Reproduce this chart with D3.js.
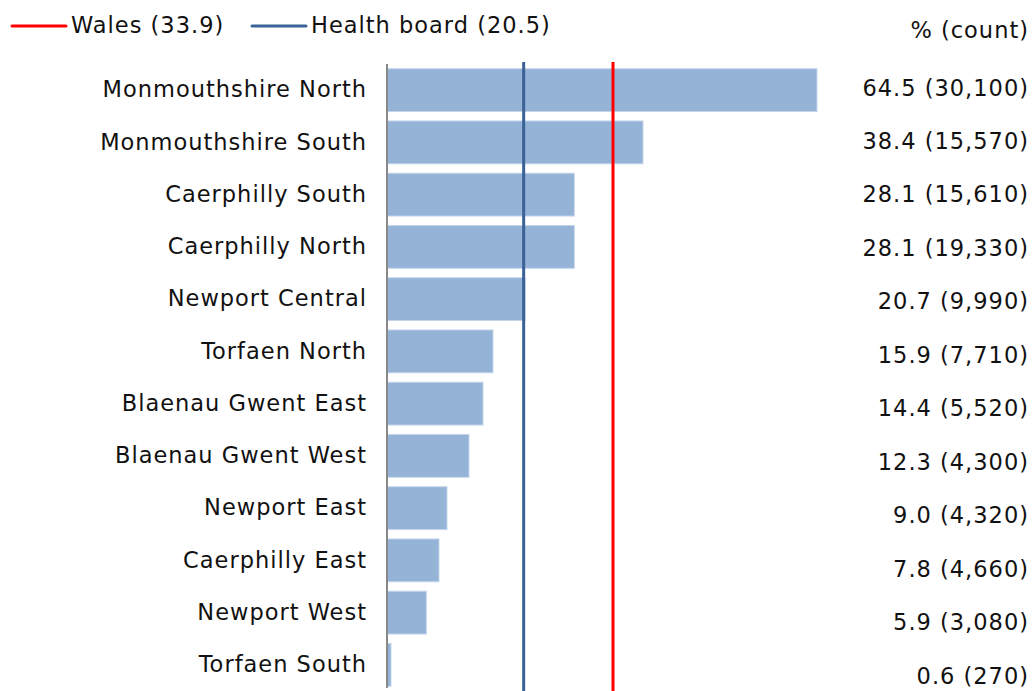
<!DOCTYPE html>
<html>
<head>
<meta charset="utf-8">
<script src="https://cdn.jsdelivr.net/npm/d3@7"></script>
<style>
  body { margin: 0; background: #fff; }
  text { font-family: "DejaVu Sans", Verdana, sans-serif; fill: #111; letter-spacing: 1px; }
</style>
</head>
<body>
<svg id="chart"></svg>
<script>
var areas = ["Monmouthshire North", "Monmouthshire South", "Caerphilly South", "Caerphilly North",
  "Newport Central", "Torfaen North", "Blaenau Gwent East", "Blaenau Gwent West",
  "Newport East", "Caerphilly East", "Newport West", "Torfaen South"];
var percents = [64.5, 38.4, 28.1, 28.1, 20.7, 15.9, 14.4, 12.3, 9.0, 7.8, 5.9, 0.6];
var counts = [30100, 15570, 15610, 19330, 9990, 7710, 5520, 4300, 4320, 4660, 3080, 270];
var refNames = ["Wales", "Health board"];
var refValues = [33.9, 20.5];

var width = 1032, height = 691;
var margin = {left: 387, right: 215, top: 64, bottom: 0};
var fontSize = 22.5;

var svg = d3.select("#chart").attr("width", width).attr("height", height);

var x = d3.scaleLinear()
  .domain([0, d3.max(percents)])
  .range([margin.left, width - margin.right]);

var y = d3.scaleBand()
  .domain(areas)
  .range([margin.top, height - margin.bottom])
  .paddingInner(0.18)
  .paddingOuter(0.09);

// table column on the right has its own spacing
var yTable = d3.scalePoint()
  .domain(areas)
  .range([89, 677]);

var refColor = d3.scaleOrdinal().domain(refNames).range(["#ff0000", "#3a6296"]);

// bars
svg.append("g")
  .selectAll("rect")
  .data(areas)
  .enter()
  .append("rect")
  .attr("x", x(0))
  .attr("y", function(d) { return y(d); })
  .attr("width", function(d, i) { return x(percents[i]) - x(0); })
  .attr("height", y.bandwidth())
  .attr("fill", "#95b3d7")
  .attr("stroke", "#c6d6ea")
  .attr("stroke-width", 1);

// category axis
var yAxis = d3.axisLeft(y).tickSize(0).tickPadding(20);
var ax = svg.append("g")
  .attr("transform", "translate(" + x(0) + ",0)")
  .call(yAxis);
ax.select(".domain").attr("stroke", "#888").attr("stroke-width", 2)
  .attr("d", "M0," + margin.top + "V" + (height - 3));
ax.selectAll("text")
  .attr("font-size", fontSize)
  .attr("font-family", "DejaVu Sans, Verdana, sans-serif")
  .attr("fill", "#111");

// reference lines
svg.append("g")
  .selectAll("line")
  .data(refNames)
  .enter()
  .append("line")
  .attr("x1", function(d, i) { return x(refValues[i]); })
  .attr("x2", function(d, i) { return x(refValues[i]); })
  .attr("y1", 62)
  .attr("y2", height)
  .attr("stroke", function(d) { return refColor(d); })
  .attr("stroke-width", 3);

// value column
var fmt = d3.format(",");
svg.append("text")
  .attr("x", 1029)
  .attr("y", 31)
  .attr("text-anchor", "end")
  .attr("dominant-baseline", "middle")
  .attr("font-size", fontSize)
  .text("% (count)");

svg.append("g")
  .selectAll("text")
  .data(areas)
  .enter()
  .append("text")
  .attr("x", 1029)
  .attr("y", function(d) { return yTable(d); })
  .attr("text-anchor", "end")
  .attr("dominant-baseline", "middle")
  .attr("font-size", fontSize)
  .text(function(d, i) { return percents[i].toFixed(1) + " (" + fmt(counts[i]) + ")"; });

// legend
var legendX = [12, 252];
var legend = svg.append("g")
  .selectAll("g")
  .data(refNames)
  .enter()
  .append("g")
  .attr("transform", function(d, i) { return "translate(" + legendX[i] + ",26)"; });
legend.append("line")
  .attr("x1", 0).attr("x2", 54)
  .attr("stroke", function(d) { return refColor(d); })
  .attr("stroke-width", 3)
  .attr("stroke-linecap", "round");
legend.append("text")
  .attr("x", 59)
  .attr("dominant-baseline", "middle")
  .attr("font-size", fontSize)
  .text(function(d, i) { return d + " (" + refValues[i] + ")"; });
</script>
</body>
</html>
